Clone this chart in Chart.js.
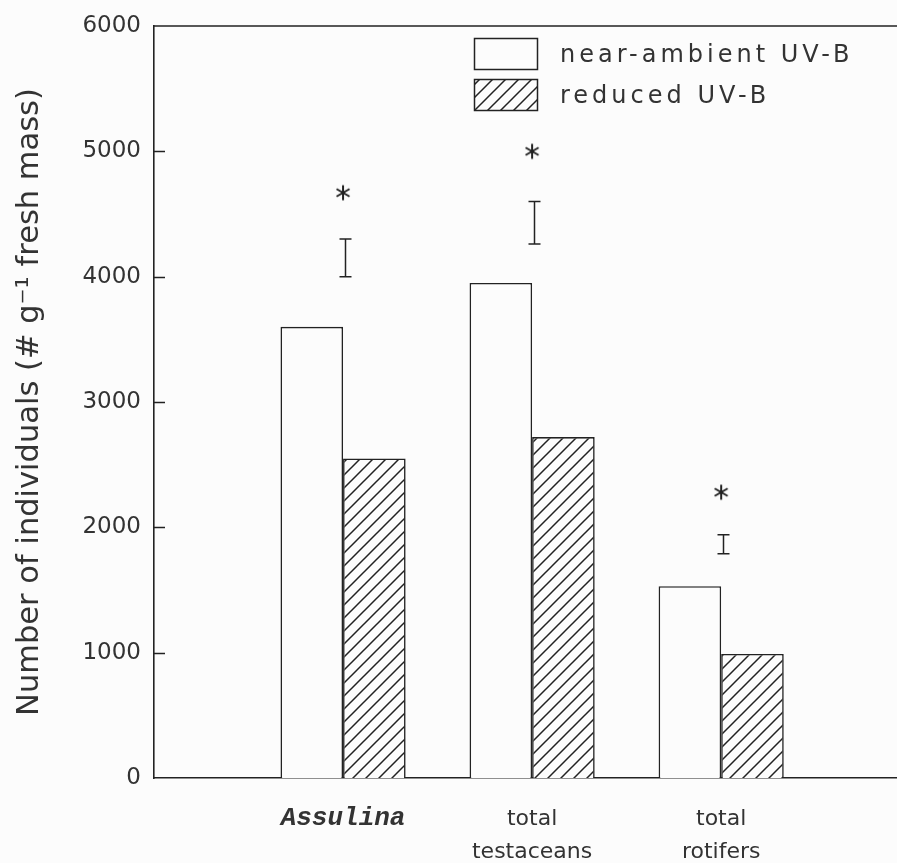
<!DOCTYPE html>
<html>
<head>
<meta charset="utf-8">
<script src="https://cdn.jsdelivr.net/npm/chart.js@4.4.1/dist/chart.umd.min.js"></script>
<style>
  html, body { margin: 0; padding: 0; background: #fcfcfc; overflow: hidden; }
  #wrap { width: 897px; height: 863px; }
</style>
</head>
<body>
<div id="wrap"><canvas id="chart" width="897" height="863"></canvas></div>
<script>
// Abundance of testate amoebae and rotifers under two UV-B treatments
const categoryLabels = [['Assulina'], ['total', 'testaceans'], ['total', 'rotifers']];
const categoryX = [1, 2, 3];
const seriesNames = ['near-ambient UV-B', 'reduced UV-B'];
const nearAmbient = [3600, 3950, 1530];
const reducedUVB = [2550, 2720, 990];
// error bar extent drawn above each pair, and the significance mark above it
const errLow = [4000, 4260, 1790];
const errHigh = [4300, 4600, 1940];
const signifY = [4670, 5000, 2280];
const yTicks = [0, 1000, 2000, 3000, 4000, 5000, 6000];
const xMin = 0, xMax = 3.93;

const INK = '#222';
const TEXT = '#333';

// diagonal hatch used for the reduced UV-B bars
function makeHatch() {
  const s = 13;
  const c = document.createElement('canvas');
  c.width = s; c.height = s;
  const g = c.getContext('2d');
  g.fillStyle = '#fcfcfc';
  g.fillRect(0, 0, s, s);
  g.strokeStyle = INK;
  g.lineWidth = 1.5;
  g.beginPath();
  g.moveTo(-1, s + 1); g.lineTo(s + 1, -1);
  g.moveTo(-s / 2 - 1, s / 2 + 1); g.lineTo(s / 2 + 1, -s / 2 - 1);
  g.moveTo(s / 2 - 1, s * 1.5 + 1); g.lineTo(s * 1.5 + 1, s / 2 - 1);
  g.stroke();
  return document.getElementById('chart').getContext('2d').createPattern(c, 'repeat');
}
const hatch = makeHatch();

// six-armed asterisk marker
function makeAsterisk() {
  const s = 18;
  const c = document.createElement('canvas');
  c.width = s; c.height = s;
  const g = c.getContext('2d');
  g.strokeStyle = INK;
  g.lineWidth = 2;
  g.beginPath();
  for (let k = 0; k < 3; k++) {
    const a = Math.PI / 2 + k * Math.PI / 3;
    const r = 7.5;
    g.moveTo(s / 2 + r * Math.cos(a), s / 2 + r * Math.sin(a));
    g.lineTo(s / 2 - r * Math.cos(a), s / 2 - r * Math.sin(a));
  }
  g.stroke();
  return c;
}
const asterisk = makeAsterisk();

const background = {
  id: 'background',
  beforeDraw(chart) {
    const ctx = chart.ctx;
    ctx.save();
    ctx.fillStyle = '#fcfcfc';
    ctx.fillRect(0, 0, chart.width, chart.height);
    ctx.restore();
  }
};

const frameAndTicks = {
  id: 'frameAndTicks',
  afterDraw(chart) {
    const ctx = chart.ctx;
    const a = chart.chartArea;
    const y = chart.scales.y;
    ctx.save();
    ctx.strokeStyle = INK;
    ctx.lineWidth = 1.5;
    ctx.beginPath();
    ctx.moveTo(a.left, a.top);
    ctx.lineTo(chart.width, a.top);
    yTicks.forEach(v => {
      if (v <= y.min || v >= y.max) return;
      const py = Math.round(y.getPixelForValue(v)) + 0.5;
      ctx.moveTo(a.left, py);
      ctx.lineTo(a.left + 11, py);
    });
    ctx.stroke();
    ctx.restore();
  }
};

const errorBars = {
  id: 'errorBars',
  afterDatasetsDraw(chart) {
    const ctx = chart.ctx;
    const xs = chart.scales.x, ys = chart.scales.y;
    ctx.save();
    ctx.strokeStyle = INK;
    ctx.lineWidth = 1.5;
    ctx.beginPath();
    categoryX.forEach((cx, i) => {
      const px = Math.round(xs.getPixelForValue(cx)) + 2.5;
      const lo = ys.getPixelForValue(errLow[i]);
      const hi = ys.getPixelForValue(errHigh[i]);
      ctx.moveTo(px, lo); ctx.lineTo(px, hi);
      ctx.moveTo(px - 6, hi); ctx.lineTo(px + 6, hi);
      ctx.moveTo(px - 6, lo); ctx.lineTo(px + 6, lo);
    });
    ctx.stroke();
    ctx.restore();
  }
};

const boxLegend = {
  id: 'boxLegend',
  afterDraw(chart) {
    const ctx = chart.ctx;
    const a = chart.chartArea;
    const bx = a.left + 320, bw = 63, bh = 31;
    const rows = [
      { y: a.top + 12, fill: '#fcfcfc' },
      { y: a.top + 53, fill: hatch }
    ];
    ctx.save();
    rows.forEach((r, i) => {
      ctx.fillStyle = r.fill;
      ctx.fillRect(bx, r.y, bw, bh);
      ctx.strokeStyle = INK;
      ctx.lineWidth = 1.5;
      ctx.strokeRect(bx + 0.5, r.y + 0.5, bw, bh);
      ctx.fillStyle = TEXT;
      ctx.font = '24px "DejaVu Sans"';
      ctx.letterSpacing = '4px';
      ctx.textBaseline = 'alphabetic';
      ctx.textAlign = 'left';
      ctx.fillText(seriesNames[i], bx + 86, r.y + 24);
    });
    ctx.restore();
  }
};

new Chart(document.getElementById('chart'), {
  type: 'bar',
  data: {
    datasets: [
      {
        label: seriesNames[0],
        data: categoryX.map((x, i) => ({ x, y: nearAmbient[i] })),
        backgroundColor: '#fcfcfc',
        borderColor: INK,
        borderWidth: 1.6,
        categoryPercentage: 0.662,
        barPercentage: 1
      },
      {
        label: seriesNames[1],
        data: categoryX.map((x, i) => ({ x, y: reducedUVB[i] })),
        backgroundColor: hatch,
        borderColor: INK,
        borderWidth: 1.6,
        categoryPercentage: 0.662,
        barPercentage: 1
      },
      {
        type: 'scatter',
        label: 'significance',
        data: categoryX.map((x, i) => ({ x, y: signifY[i] })),
        pointStyle: asterisk,
        showLine: false
      }
    ]
  },
  options: {
    responsive: false,
    animation: false,
    layout: { autoPadding: false, padding: { top: 26, right: 0, left: 0, bottom: 0 } },
    plugins: { legend: { display: false }, tooltip: { enabled: false } },
    scales: {
      x: {
        type: 'linear',
        offset: false,
        min: xMin,
        max: xMax,
        grid: { display: false, offset: false },
        border: { display: true, color: INK, width: 1.6 },
        afterBuildTicks: s => { s.ticks = categoryX.map(v => ({ value: v })); },
        afterFit: s => { s.height = 85; s.paddingLeft = 0; s.paddingRight = 0; },
        ticks: {
          autoSkip: false,
          maxRotation: 0,
          padding: 17,
          color: TEXT,
          callback: (v, i) => categoryLabels[i],
          font: ctx => ctx.index === 0
            ? { family: '"Liberation Mono"', size: 26, style: 'italic', weight: 'bold', lineHeight: 1.2 }
            : { family: '"DejaVu Sans"', size: 22, lineHeight: 1.5 }
        }
      },
      y: {
        min: 0,
        max: 6000,
        grid: { display: false },
        border: { display: true, color: INK, width: 1.6 },
        afterBuildTicks: s => { s.ticks = yTicks.map(v => ({ value: v })); },
        afterFit: s => { s.width = 154; },
        ticks: {
          padding: 5,
          color: TEXT,
          callback: v => String(v),
          font: { family: '"DejaVu Sans"', size: 23 }
        },
        title: {
          display: true,
          text: 'Number of individuals (# g\u207B\u00B9 fresh mass)',
          color: TEXT,
          padding: { top: 12, bottom: 0 },
          font: { family: '"DejaVu Sans"', size: 30.5, lineHeight: 1.2 }
        }
      }
    }
  },
  plugins: [background, errorBars, frameAndTicks, boxLegend]
});
</script>
</body>
</html>
